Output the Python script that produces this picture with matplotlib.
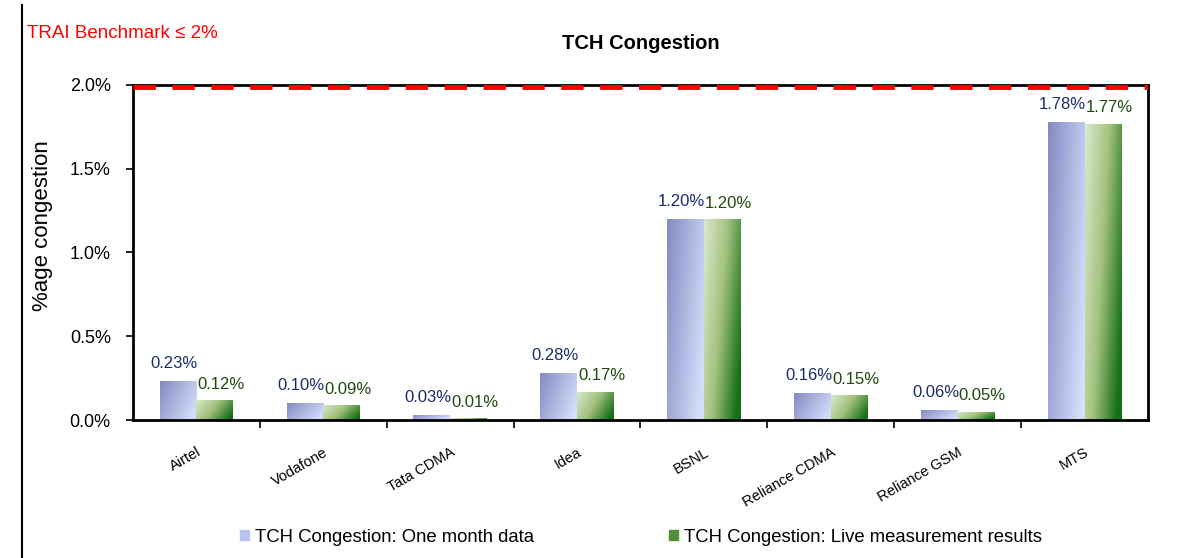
import matplotlib
matplotlib.use("Agg")
import matplotlib.pyplot as plt
import numpy as np
from matplotlib.colors import LinearSegmentedColormap
from matplotlib.lines import Line2D

operators = ['Airtel', 'Vodafone', 'Tata CDMA', 'Idea', 'BSNL',
             'Reliance CDMA', 'Reliance GSM', 'MTS']
one_month = [0.23, 0.10, 0.03, 0.28, 1.20, 0.16, 0.06, 1.78]
live = [0.12, 0.09, 0.01, 0.17, 1.20, 0.15, 0.05, 1.77]
benchmark = 2.0

plt.rcParams['font.family'] = ['Liberation Sans', 'DejaVu Sans']

fig = plt.figure(figsize=(11.78, 5.58), dpi=100)
ax = fig.add_axes([0.1129, 0.2473, 0.8616, 0.6004])

blue_cm = LinearSegmentedColormap.from_list('b', ['#8589c4', '#d3def9'])
green_cm = LinearSegmentedColormap.from_list('g', ['#dbe8cc', '#a3c27f', '#176f17'])

# diagonal gradient, top-left -> bottom-right
gx, gy = np.meshgrid(np.linspace(0, 1, 60), np.linspace(0, 1, 60))
grad = np.clip(0.75 * gx + 0.35 * gy, 0, 1)

w = 0.29
x = np.arange(len(operators))
b1 = ax.bar(x - w / 2, one_month, w, color='none', edgecolor='none')
b2 = ax.bar(x + w / 2, live, w, color='none', edgecolor='none')
for bars, cm in ((b1, blue_cm), (b2, green_cm)):
    for r in bars:
        x0, y0 = r.get_x(), r.get_y()
        im = ax.imshow(grad, cmap=cm, extent=[x0, x0 + r.get_width(), y0, y0 + r.get_height()],
                       origin='upper', aspect='auto', zorder=2, vmin=0, vmax=1)
        im.set_clip_path(r)

for i in range(len(operators)):
    ax.text(x[i] - w / 2 - 0.03, one_month[i] + 0.06, f'{one_month[i]:.2f}%',
            ha='center', va='bottom', fontsize=12, color='#1c2c6c')
    ax.text(x[i] + w / 2 + 0.05, live[i] + 0.05, f'{live[i]:.2f}%',
            ha='center', va='bottom', fontsize=12, color='#1e4a10')

ax.axhline(benchmark - 0.01, color='#ff0000', lw=3.5, ls=(0, (4.6, 3.4)), zorder=3)

ax.set_xlim(-0.5, len(operators) - 0.5)
ax.set_ylim(0, 2.0)
ax.set_yticks([0, 0.5, 1.0, 1.5, 2.0])
ax.set_yticklabels(['0.0%', '0.5%', '1.0%', '1.5%', '2.0%'], fontsize=13)
ax.set_xticks(x)
ax.set_xticklabels(operators, rotation=30, ha='right', fontsize=10.5, rotation_mode='anchor')
ax.tick_params(axis='x', length=0, pad=18)
ax.set_xticks(np.arange(0.5, len(operators) - 0.5), minor=True)
ax.tick_params(axis='x', which='minor', length=6, width=1.2, direction='out')
ax.tick_params(axis='y', length=5, width=1.2, pad=11)
for s in ax.spines.values():
    s.set_linewidth(2)

ax.set_ylabel('%age congestion', fontsize=16)
ax.yaxis.set_label_coords(-0.079, 0.58)
ax.set_title('TCH Congestion', fontsize=14.5, fontweight='bold', pad=26)

fig.text(27 / 1178, 1 - 33 / 558, 'TRAI Benchmark \u2264 2%', color='#ff0000',
         fontsize=13.5, va='center')
fig.add_artist(Line2D([22 / 1178, 22 / 1178], [0, 1 - 5 / 558], color='black', lw=1.5))

handles = [plt.Rectangle((0, 0), 1, 1, color='#b8c2ee'),
           plt.Rectangle((0, 0), 1, 1, color='#4f8f3a')]
fig.legend(handles, ['TCH Congestion: One month data', 'TCH Congestion: Live measurement results'],
           loc='center', bbox_to_anchor=(0.544, 1 - 537 / 558), ncol=2, frameon=False,
           fontsize=13.3, handlelength=0.5, handleheight=0.5, handletextpad=0.3,
           columnspacing=7.3)

fig.savefig('out.png', dpi=100)
